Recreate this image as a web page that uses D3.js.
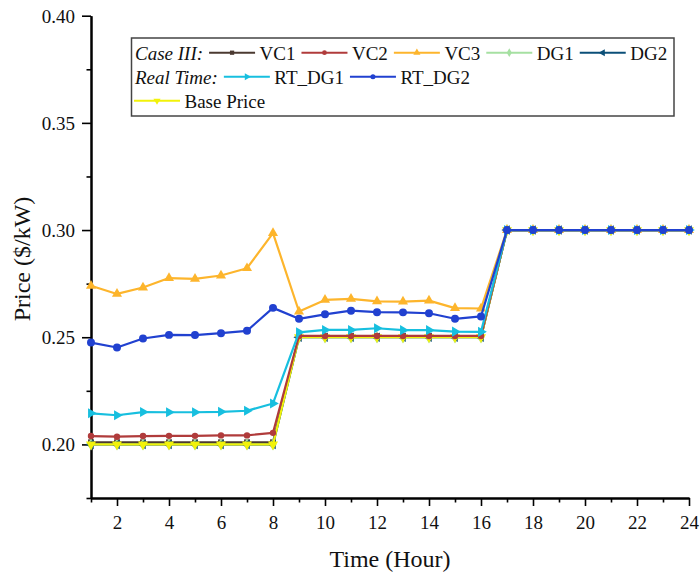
<!DOCTYPE html>
<html>
<head>
<meta charset="utf-8">
<script src="https://cdn.jsdelivr.net/npm/d3@7/dist/d3.min.js"></script>
<style>
  html, body { margin: 0; padding: 0; background: #fff; }
  svg { display: block; font-family: "Liberation Serif", "Times New Roman", serif; }
  svg text { font-family: "Liberation Serif", "Times New Roman", serif; }
</style>
</head>
<body>
<svg id="chart" width="700" height="576"></svg>
<script>
// Hours of the day
const hours = [1, 2, 3, 4, 5, 6, 7, 8, 9, 10, 11, 12, 13, 14, 15, 16, 17, 18, 19, 20, 21, 22, 23, 24];

// Case III prices ($/kW)
const vc1 = [0.201, 0.201, 0.201, 0.201, 0.201, 0.201, 0.201, 0.201,
             0.2505, 0.2505, 0.2505, 0.2505, 0.2505, 0.2505, 0.2505, 0.2505,
             0.30, 0.30, 0.30, 0.30, 0.30, 0.30, 0.30, 0.30];
const vc2 = [0.2039, 0.2036, 0.2039, 0.2040, 0.2040, 0.2042, 0.2042, 0.2054,
             0.2506, 0.2506, 0.2506, 0.2506, 0.2506, 0.2506, 0.2506, 0.2506,
             0.30, 0.30, 0.30, 0.30, 0.30, 0.30, 0.30, 0.30];
const vc3 = [0.2740, 0.2702, 0.2732, 0.2776, 0.2772, 0.2788, 0.2822, 0.2986,
             0.2620, 0.2674, 0.2679, 0.2667, 0.2666, 0.2671, 0.2636, 0.2634,
             0.30, 0.30, 0.30, 0.30, 0.30, 0.30, 0.30, 0.30];
const dg1 = [0.20, 0.20, 0.20, 0.20, 0.20, 0.20, 0.20, 0.20,
             0.25, 0.25, 0.25, 0.25, 0.25, 0.25, 0.25, 0.25,
             0.30, 0.30, 0.30, 0.30, 0.30, 0.30, 0.30, 0.30];
const dg2 = [0.20, 0.20, 0.20, 0.20, 0.20, 0.20, 0.20, 0.20,
             0.25, 0.25, 0.25, 0.25, 0.25, 0.25, 0.25, 0.25,
             0.30, 0.30, 0.30, 0.30, 0.30, 0.30, 0.30, 0.30];

// Real-time prices ($/kW)
const rtDg1 = [0.2145, 0.2136, 0.2151, 0.2150, 0.2150, 0.2152, 0.2157, 0.2191,
               0.2523, 0.2534, 0.2534, 0.2542, 0.2533, 0.2533, 0.2526, 0.2525,
               0.30, 0.30, 0.30, 0.30, 0.30, 0.30, 0.30, 0.30];
const rtDg2 = [0.2475, 0.2452, 0.2494, 0.2511, 0.2510, 0.2519, 0.2530, 0.2637,
               0.2586, 0.2607, 0.2624, 0.2617, 0.2616, 0.2612, 0.2586, 0.2597,
               0.30, 0.30, 0.30, 0.30, 0.30, 0.30, 0.30, 0.30];

// Base price ($/kW)
const basePrice = [0.20, 0.20, 0.20, 0.20, 0.20, 0.20, 0.20, 0.20,
                   0.25, 0.25, 0.25, 0.25, 0.25, 0.25, 0.25, 0.25,
                   0.30, 0.30, 0.30, 0.30, 0.30, 0.30, 0.30, 0.30];

// Axis ticks
const xTickLabels = [2, 4, 6, 8, 10, 12, 14, 16, 18, 20, 22, 24];
const xMinorTicks = [1, 3, 5, 7, 9, 11, 13, 15, 17, 19, 21, 23];
const yTickLabels = [0.20, 0.25, 0.30, 0.35, 0.40];
const yMinorTicks = [0.175, 0.225, 0.275, 0.325, 0.375];

// Series definitions (drawing order: later ones sit on top)
const series = [
  { name: "VC1", values: vc1, color: "#4b3a31", symbol: "square", rot: 0, size: 34, lsize: 18 },
  { name: "DG1", values: dg1, color: "#a6e0a2", symbol: "diamond", rot: 0, size: 44, lsize: 22 },
  { name: "DG2", values: dg2, color: "#0b4f78", symbol: "triangle", rot: -90, size: 40, lsize: 22 },
  { name: "Base Price", values: basePrice, color: "#f2f20a", symbol: "triangle", rot: 180, size: 44, lsize: 22 },
  { name: "VC2", values: vc2, color: "#b03b3b", symbol: "circle", rot: 0, size: 32, lsize: 18 },
  { name: "VC3", values: vc3, color: "#fdb52c", symbol: "triangle", rot: 0, size: 44, lsize: 22 },
  { name: "RT_DG1", values: rtDg1, color: "#17bfdf", symbol: "triangle", rot: 90, size: 44, lsize: 22 },
  { name: "RT_DG2", values: rtDg2, color: "#2141d0", symbol: "circle", rot: 0, size: 50, lsize: 20 }
];
const byName = Object.fromEntries(series.map(s => [s.name, s]));

const symbolTypes = {
  square: d3.symbolSquare,
  circle: d3.symbolCircle,
  triangle: d3.symbolTriangle,
  diamond: d3.symbolDiamond
};

const svg = d3.select("#chart");
const margin = { left: 91, right: 11, top: 15.7, bottom: 78 };
const W = 700, H = 576;
const serif = "'Liberation Serif', 'Times New Roman', serif";

const x = d3.scaleLinear().domain([1, 24]).range([margin.left, W - margin.right]);
const y = d3.scaleLinear().domain([0.175, 0.40]).range([H - margin.bottom, margin.top]);

// Axes
const axisG = svg.append("g");
const xMajor = axisG.append("g").attr("transform", `translate(0,${y(0.175)})`)
  .call(d3.axisBottom(x).tickValues(xTickLabels).tickFormat(d3.format("d")).tickSize(8).tickPadding(10).tickSizeOuter(0));
const xMinor = axisG.append("g").attr("transform", `translate(0,${y(0.175)})`)
  .call(d3.axisBottom(x).tickValues(xMinorTicks).tickFormat("").tickSize(4.5).tickSizeOuter(0));
const yMajor = axisG.append("g").attr("transform", `translate(${x(1)},0)`)
  .call(d3.axisLeft(y).tickValues(yTickLabels).tickFormat(d3.format(".2f")).tickSize(9).tickPadding(7).tickSizeOuter(0));
const yMinor = axisG.append("g").attr("transform", `translate(${x(1)},0)`)
  .call(d3.axisLeft(y).tickValues(yMinorTicks).tickFormat("").tickSize(4.5).tickSizeOuter(0));

axisG.selectAll("g").attr("font-family", null).attr("font-size", null);
axisG.selectAll(".domain").attr("stroke", "#000").attr("stroke-width", 2);
axisG.selectAll(".tick line").attr("stroke", "#000").attr("stroke-width", 1.6);
axisG.selectAll(".tick text").style("font-family", serif).style("font-size", "19px").attr("fill", "#111");
yMajor.selectAll(".tick text").attr("dy", "0.34em");

// Axis titles
svg.append("text")
  .attr("x", (x(1) + x(24)) / 2).attr("y", 567)
  .attr("text-anchor", "middle").style("font-size", "24px").attr("fill", "#111")
  .text("Time (Hour)");
svg.append("text")
  .attr("transform", `translate(30,${259}) rotate(-90)`)
  .attr("text-anchor", "middle").style("font-size", "24px").attr("fill", "#111")
  .text("Price ($/kW)");

// Lines and markers
const line = d3.line().x((d, i) => x(hours[i])).y(d => y(d));
const plot = svg.append("g");
series.forEach(s => {
  const g = plot.append("g");
  g.append("path").datum(s.values)
    .attr("d", line).attr("fill", "none")
    .attr("stroke", s.color).attr("stroke-width", 2.2).attr("stroke-linejoin", "round");
  const sym = d3.symbol().type(symbolTypes[s.symbol]).size(s.size);
  g.selectAll("path.m").data(s.values).join("path").attr("class", "m")
    .attr("d", sym)
    .attr("transform", (d, i) => `translate(${x(hours[i])},${y(d)}) rotate(${s.rot})`)
    .attr("fill", s.color);
});

// Legend
const legend = svg.append("g");
legend.append("rect")
  .attr("x", 131.5).attr("y", 38).attr("width", 542.5).attr("height", 78)
  .attr("fill", "#fff").attr("stroke", "#444").attr("stroke-width", 1.5);

const legendRows = [
  { label: "Case III:", items: ["VC1", "VC2", "VC3", "DG1", "DG2"], baseline: 59.5 },
  { label: "Real Time:", items: ["RT_DG1", "RT_DG2"], baseline: 83.5 },
  { label: null, items: ["Base Price"], baseline: 107.5 }
];

legendRows.forEach(row => {
  let cx = 135;
  if (row.label) {
    const t = legend.append("text").attr("x", cx).attr("y", row.baseline)
      .style("font-size", "19px").style("font-style", "italic").attr("fill", "#111")
      .text(row.label);
    cx += t.node().getComputedTextLength() + 6;
  } else {
    cx = 134;
  }
  row.items.forEach(name => {
    const s = byName[name];
    const ly = row.baseline - 6.8;
    legend.append("line").attr("x1", cx).attr("x2", cx + 46).attr("y1", ly).attr("y2", ly)
      .attr("stroke", s.color).attr("stroke-width", 2);
    legend.append("path")
      .attr("d", d3.symbol().type(symbolTypes[s.symbol]).size(s.lsize)())
      .attr("transform", `translate(${cx + 23},${ly}) rotate(${s.rot})`)
      .attr("fill", s.color);
    cx += 46 + 4.5;
    const t = legend.append("text").attr("x", cx).attr("y", row.baseline)
      .style("font-size", "19px").attr("fill", "#111").text(name);
    cx += t.node().getComputedTextLength() + 6;
  });
});
</script>
</body>
</html>
